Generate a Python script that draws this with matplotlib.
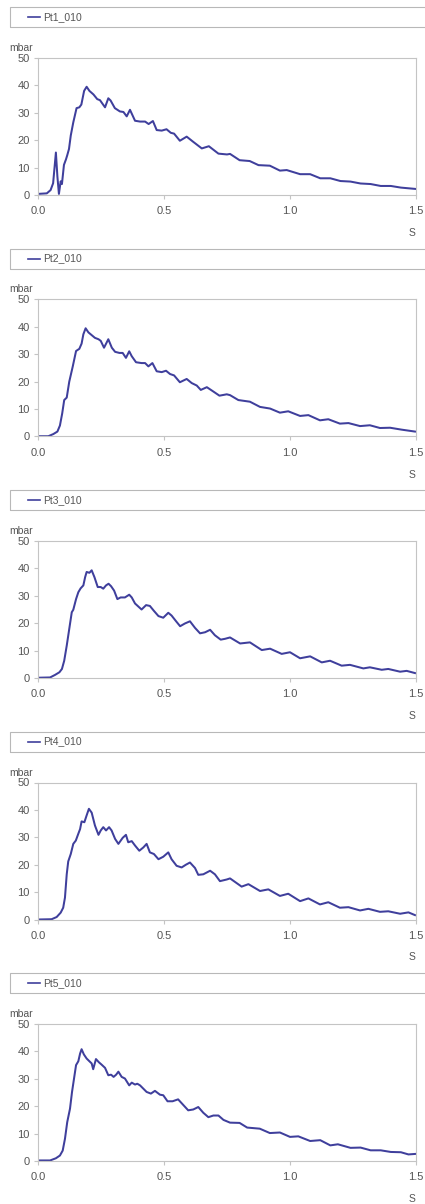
import matplotlib
matplotlib.use('Agg')
import matplotlib.pyplot as plt
from matplotlib.patches import Rectangle
from matplotlib.lines import Line2D

plt.rcParams['font.family'] = ['Liberation Sans', 'DejaVu Sans']

W, H = 425, 1204
linea = '#3f3f9c'
gris = '#555555'

nombres = ['Pt1_010', 'Pt2_010', 'Pt3_010', 'Pt4_010', 'Pt5_010']

t1 = [0.0, 0.035, 0.05, 0.06, 0.071, 0.077, 0.083, 0.09, 0.095, 0.103, 0.111, 0.116, 0.123, 0.13, 0.14,
      0.153, 0.164, 0.172, 0.183, 0.193, 0.204, 0.22, 0.235, 0.246, 0.266, 0.279, 0.288, 0.305, 0.325,
      0.339, 0.352, 0.365, 0.374, 0.385, 0.405, 0.425, 0.439, 0.456, 0.471, 0.491, 0.51, 0.527, 0.54,
      0.563, 0.59, 0.616, 0.65, 0.678, 0.716, 0.75, 0.762, 0.80, 0.84, 0.875, 0.92, 0.96, 0.987, 1.04,
      1.08, 1.12, 1.16, 1.20, 1.24, 1.28, 1.32, 1.36, 1.40, 1.44, 1.50]
p1 = [0.4, 0.6, 1.8, 4.3, 15.5, 6.7, 0.4, 5.0, 4.0, 11.0, 13.0, 14.5, 16.8, 21.7, 26.5,
      31.7, 32.0, 33.0, 38.0, 39.5, 38.0, 36.7, 35.0, 34.6, 32.0, 35.3, 34.5, 31.7, 30.5,
      30.3, 28.7, 31.1, 29.3, 27.1, 26.8, 26.8, 25.9, 27.0, 23.7, 23.5, 24.0, 22.7, 22.4,
      19.8, 21.3, 19.4, 17.0, 17.8, 15.1, 14.8, 15.0, 12.7, 12.4, 10.9, 10.7, 8.9, 9.1, 7.6,
      7.6, 6.1, 6.1, 5.1, 4.9, 4.2, 4.0, 3.3, 3.3, 2.7, 2.2]

t2 = [0.0, 0.041, 0.061, 0.077, 0.087, 0.096, 0.104, 0.114, 0.124, 0.138, 0.151, 0.164, 0.173, 0.18,
      0.189, 0.2, 0.213, 0.226, 0.24, 0.249, 0.262, 0.279, 0.293, 0.306, 0.323, 0.336, 0.349, 0.362,
      0.372, 0.389, 0.411, 0.425, 0.438, 0.454, 0.471, 0.491, 0.508, 0.524, 0.54, 0.563, 0.59, 0.61,
      0.63, 0.646, 0.67, 0.696, 0.72, 0.749, 0.762, 0.795, 0.841, 0.881, 0.921, 0.96, 0.993, 1.04,
      1.073, 1.119, 1.152, 1.198, 1.232, 1.278, 1.317, 1.357, 1.397, 1.443, 1.496]
p2 = [0.1, 0.1, 0.9, 1.8, 4.0, 8.4, 13.3, 14.2, 20.0, 25.6, 31.2, 32.0, 33.9, 37.3,
      39.5, 38.0, 37.0, 36.0, 35.5, 34.9, 32.4, 35.5, 32.4, 30.9, 30.5, 30.5, 28.7, 31.1,
      29.3, 27.1, 26.8, 26.8, 25.6, 26.8, 23.8, 23.5, 24.0, 22.8, 22.3, 19.8, 21.0, 19.5,
      18.6, 17.0, 18.0, 16.4, 14.9, 15.4, 15.1, 13.3, 12.7, 10.8, 10.2, 8.7, 9.2, 7.5,
      7.8, 5.9, 6.3, 4.7, 4.9, 3.8, 4.1, 3.1, 3.2, 2.5, 1.8]

t3 = [0.0, 0.048, 0.067, 0.085, 0.095, 0.104, 0.114, 0.124, 0.134, 0.14, 0.151, 0.16, 0.169, 0.18,
      0.187, 0.193, 0.204, 0.213, 0.224, 0.237, 0.249, 0.259, 0.27, 0.28, 0.29, 0.302, 0.315, 0.328,
      0.345, 0.362, 0.372, 0.385, 0.411, 0.429, 0.444, 0.46, 0.478, 0.497, 0.517, 0.53, 0.548, 0.564,
      0.583, 0.603, 0.623, 0.643, 0.663, 0.683, 0.702, 0.725, 0.742, 0.762, 0.802, 0.841, 0.888,
      0.921, 0.967, 1.0, 1.04, 1.08, 1.126, 1.159, 1.205, 1.238, 1.291, 1.317, 1.364, 1.39, 1.437,
      1.463, 1.496]
p3 = [0.1, 0.2, 1.1, 2.1, 3.3, 6.3, 11.8, 17.9, 24.0, 24.9, 28.8, 31.3, 32.7, 33.8,
      36.8, 38.7, 38.4, 39.3, 36.8, 33.2, 33.2, 32.6, 33.8, 34.4, 33.5, 31.9, 28.8, 29.4,
      29.4, 30.4, 29.4, 27.2, 25.0, 26.6, 26.3, 24.5, 22.6, 22.0, 23.8, 22.8, 20.7, 18.9,
      19.9, 20.7, 18.3, 16.3, 16.7, 17.6, 15.6, 14.0, 14.3, 14.8, 12.6, 13.0, 10.2,
      10.7, 8.8, 9.4, 7.2, 7.9, 5.7, 6.3, 4.5, 4.8, 3.5, 3.9, 3.0, 3.3, 2.3,
      2.6, 1.8]

t4 = [0.0, 0.054, 0.074, 0.09, 0.1, 0.107, 0.114, 0.12, 0.13, 0.14, 0.15, 0.16, 0.167, 0.173, 0.184,
      0.193, 0.202, 0.213, 0.226, 0.24, 0.249, 0.259, 0.27, 0.282, 0.292, 0.306, 0.319, 0.336, 0.349,
      0.358, 0.372, 0.385, 0.402, 0.418, 0.431, 0.444, 0.46, 0.478, 0.497, 0.517, 0.53, 0.55, 0.57,
      0.587, 0.603, 0.623, 0.636, 0.656, 0.683, 0.702, 0.722, 0.749, 0.762, 0.808, 0.835, 0.881,
      0.914, 0.96, 0.993, 1.04, 1.073, 1.119, 1.152, 1.198, 1.232, 1.278, 1.311, 1.357, 1.39, 1.437,
      1.47, 1.496]
p4 = [0.0, 0.1, 0.9, 2.5, 4.3, 8.0, 16.5, 21.2, 23.9, 27.6, 28.8, 31.3, 33.0, 35.8, 35.5,
      38.0, 40.4, 39.0, 34.3, 30.9, 32.5, 33.7, 32.5, 33.7, 32.5, 29.4, 27.6, 29.8, 30.9,
      28.2, 28.6, 27.0, 25.1, 26.3, 27.6, 24.5, 23.9, 22.0, 22.9, 24.5, 22.0, 19.6, 19.0,
      20.0, 20.8, 18.8, 16.3, 16.5, 17.8, 16.5, 14.0, 14.6, 15.0, 12.0, 12.9, 10.4,
      11.0, 8.6, 9.4, 6.7, 7.7, 5.5, 6.3, 4.3, 4.5, 3.3, 3.9, 2.8, 3.0, 2.1,
      2.6, 1.6]

t5 = [0.0, 0.048, 0.071, 0.087, 0.098, 0.107, 0.116, 0.127, 0.135, 0.143, 0.151, 0.16, 0.167, 0.173,
      0.182, 0.193, 0.204, 0.213, 0.219, 0.23, 0.242, 0.252, 0.266, 0.279, 0.29, 0.3, 0.31, 0.319,
      0.332, 0.345, 0.362, 0.372, 0.385, 0.394, 0.405, 0.418, 0.431, 0.448, 0.464, 0.484, 0.497,
      0.514, 0.534, 0.556, 0.576, 0.596, 0.616, 0.636, 0.656, 0.676, 0.696, 0.716, 0.736, 0.762,
      0.80, 0.83, 0.88, 0.92, 0.96, 1.0, 1.033, 1.08, 1.12, 1.16, 1.19, 1.24, 1.28, 1.32, 1.36,
      1.40, 1.44, 1.47, 1.50]
p5 = [0.2, 0.2, 1.0, 2.0, 3.8, 8.1, 14.2, 19.1, 25.2, 30.1, 35.0, 36.4, 39.2, 40.8,
      38.9, 37.4, 36.4, 35.6, 33.5, 37.2, 36.0, 35.2, 34.0, 31.3, 31.5, 30.7, 31.5, 32.6,
      30.7, 30.1, 27.6, 28.6, 27.9, 28.2, 27.6, 26.4, 25.2, 24.6, 25.6, 24.2, 24.0,
      21.8, 21.8, 22.5, 20.5, 18.5, 18.8, 19.7, 17.6, 16.0, 16.6, 16.6, 15.0, 14.0,
      13.9, 12.2, 11.8, 10.2, 10.4, 8.8, 9.0, 7.3, 7.6, 5.7, 6.1, 4.8, 4.9, 3.9, 3.9,
      3.3, 3.2, 2.4, 2.6]

tiempos = [t1, t2, t3, t4, t5]
presiones = [p1, p2, p3, p4, p5]

x_ticks = [0.0, 0.5, 1.0, 1.5]
x_labels = ['0.0', '0.5', '1.0', '1.5']
y_ticks = [0, 10, 20, 30, 40, 50]

fig = plt.figure(figsize=(W / 100, H / 100), dpi=100)
fig.patch.set_facecolor('white')

paso = 241.5
for i in range(5):
    off = paso * i

    # caja de leyenda
    fig.add_artist(Rectangle((10 / W, 1 - (27 + off) / H), 430 / W, 20 / H,
                             transform=fig.transFigure, fill=False, ec='#b8b8b8', lw=0.8))
    fig.add_artist(Line2D([28 / W, 40 / W], [1 - (17 + off) / H] * 2,
                          transform=fig.transFigure, color=linea, lw=1.2))
    fig.text(43 / W, 1 - (17 + off) / H, nombres[i], fontsize=7.5, color=gris,
             ha='left', va='center')

    ax = fig.add_axes([38 / W, 1 - (195 + off) / H, (416 - 38) / W, (195 - 58) / H])
    ax.plot(tiempos[i], presiones[i], color=linea, lw=1.45, solid_joinstyle='round')
    ax.set_xlim(0, 1.5)
    ax.set_ylim(0, 50)
    ax.set_xticks(x_ticks)
    ax.set_xticklabels(x_labels)
    ax.set_yticks(y_ticks)
    for s in ax.spines.values():
        s.set_color('#c4c4c4')
        s.set_linewidth(0.8)
    ax.tick_params(axis='both', colors='#c4c4c4', labelcolor=gris, labelsize=8,
                   length=3, width=0.8)
    ax.tick_params(axis='x', pad=5)
    ax.tick_params(axis='y', pad=3)

    fig.text(9 / W, 1 - (48 + off) / H, 'mbar', fontsize=7.5, color=gris,
             ha='left', va='center')
    fig.text(415 / W, 1 - (233 + off) / H, 'S', fontsize=7.5, color=gris,
             ha='right', va='center')

fig.savefig('out.png', dpi=100)
